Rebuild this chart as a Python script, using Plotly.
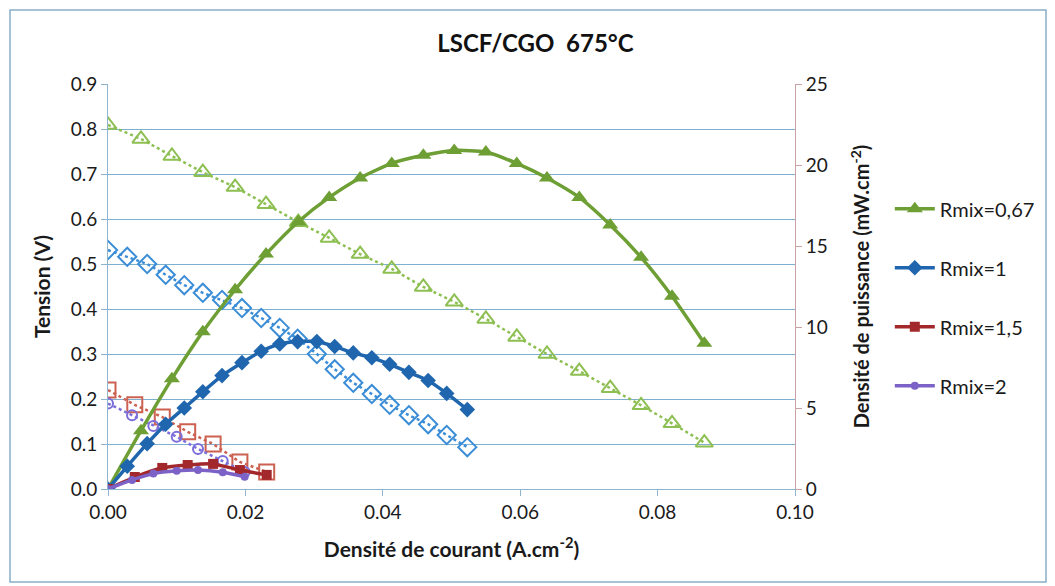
import plotly.graph_objects as go

# Rmix = 0,67
j_067 = [0, 0.0048, 0.0093, 0.0138, 0.0185, 0.0230, 0.0277, 0.0322, 0.0367, 0.0413,
         0.0459, 0.0504, 0.0550, 0.0595, 0.0639, 0.0686, 0.0731, 0.0776, 0.0821, 0.0868]
u_067 = [0.809, 0.778, 0.740, 0.704, 0.671, 0.633, 0.593, 0.558, 0.522, 0.489,
         0.449, 0.416, 0.378, 0.338, 0.300, 0.262, 0.224, 0.186, 0.146, 0.103]
p_067 = [0, 3.6, 6.8, 9.7, 12.3, 14.5, 16.5, 18.0, 19.2, 20.1,
         20.6, 20.9, 20.8, 20.1, 19.2, 18.0, 16.3, 14.3, 11.9, 9.0]

# Rmix = 1
j_1 = [0, 0.0028, 0.0057, 0.0084, 0.0111, 0.0138, 0.0166, 0.0195, 0.0223, 0.0250,
       0.0276, 0.0304, 0.0330, 0.0357, 0.0384, 0.0410, 0.0438, 0.0466, 0.0493, 0.0523]
u_1 = [0.531, 0.516, 0.500, 0.476, 0.453, 0.436, 0.420, 0.402, 0.380, 0.358,
       0.334, 0.300, 0.266, 0.236, 0.211, 0.187, 0.164, 0.144, 0.120, 0.093]
p_1 = [0, 1.4, 2.8, 4.0, 5.0, 6.0, 7.0, 7.8, 8.5, 8.95,
       9.1, 9.1, 8.8, 8.4, 8.1, 7.7, 7.2, 6.7, 5.9, 4.9]

# Rmix = 1,5
j_15 = [0, 0.0039, 0.0079, 0.0116, 0.0153, 0.0192, 0.0231]
u_15 = [0.220, 0.187, 0.160, 0.127, 0.100, 0.060, 0.038]
p_15 = [0, 0.74, 1.30, 1.48, 1.55, 1.17, 0.87]

# Rmix = 2
j_2 = [0, 0.0035, 0.0066, 0.0100, 0.0131, 0.0167, 0.0199]
u_2 = [0.190, 0.164, 0.140, 0.116, 0.089, 0.062, 0.038]
p_2 = [0, 0.56, 0.95, 1.12, 1.17, 1.03, 0.75]

names = ["Rmix=0,67", "Rmix=1", "Rmix=1,5", "Rmix=2"]
x_ticks = [0, 0.02, 0.04, 0.06, 0.08, 0.10]

series = [
    (j_067, u_067, p_067, "#6E9F35", "#8DBF52", "triangle-up", 14, 15),
    (j_1, u_1, p_1, "#1F66AE", "#3A8DD6", "diamond", 12, 14),
    (j_15, u_15, p_15, "#A3282B", "#CC6152", "square", 10, 15),
    (j_2, u_2, p_2, "#7C62C6", "#7C6FDB", "circle", 8, 10),
]

fig = go.Figure()

# tension curves (dotted, open markers, left axis)
for (j, u, p, col, lcol, sym, ms, mso), name in zip(series, names):
    fig.add_trace(go.Scatter(
        x=j, y=u, mode="lines+markers", showlegend=False, name=name,
        line=dict(color=lcol, width=2.5, dash="dot"),
        marker=dict(symbol=sym + "-open", size=mso, color=lcol, line=dict(width=2)),
    ))

# power curves (solid, filled markers, right axis)
for i, ((j, u, p, col, lcol, sym, ms, mso), name) in enumerate(zip(series, names)):
    fig.add_trace(go.Scatter(
        x=j, y=p, mode="lines+markers", name=name, yaxis="y2",
        legendgroup=str(i),
        line=dict(color=col, width=3.5, shape="spline", smoothing=0.6),
        marker=dict(symbol=sym, size=ms, color=col),
    ))

grid = "#7DB0CF"
axcol = "#8EB4CF"
font = "Lato, Open Sans, sans-serif"

# the page body adds 8px, so margins are 8px smaller than the target positions
fig.update_layout(
    width=1055, height=586,
    margin=dict(l=100, r=268, t=76, b=105),
    paper_bgcolor="white", plot_bgcolor="white",
    font=dict(family=font, size=19, color="#1a1a1a"),
    title=dict(text="<b>LSCF/CGO  675°C</b>", x=0.5, xanchor="center",
               y=0.94, yanchor="middle", font=dict(size=24, color="#111")),
    xaxis=dict(range=[0, 0.1], tickvals=x_ticks, tickformat=".2f",
               showgrid=False, zeroline=False, showline=True, linecolor=axcol,
               ticks="outside", ticklen=6, tickcolor=axcol,
               title=dict(text="<b>Densité de courant (A.cm<sup>-2</sup>)</b>",
                          font=dict(size=21), standoff=20)),
    yaxis=dict(range=[0, 0.9], dtick=0.1, tickformat=".1f",
               showgrid=True, gridcolor=grid, gridwidth=1, zeroline=False,
               showline=True, linecolor=axcol, ticks="outside", ticklen=6,
               tickcolor=axcol,
               title=dict(text="<b>Tension (V)</b>", font=dict(size=21), standoff=14)),
    yaxis2=dict(range=[0, 25], dtick=5, overlaying="y", side="right",
                showgrid=False, zeroline=False, showline=True, linecolor="#C9A3A3",
                ticks="outside", ticklen=6, tickcolor="#C9A3A3",
                title=dict(text="<b>Densité de puissance (mW.cm<sup>-2</sup>)</b>",
                           font=dict(size=20), standoff=28)),
    legend=dict(x=1.138, y=0.74, xanchor="left", yanchor="top",
                font=dict(size=20), tracegroupgap=30, itemwidth=40,
                bgcolor="rgba(0,0,0,0)"),
)

# outer chart frame
fig.add_shape(type="rect", xref="paper", yref="paper",
              x0=(10 - 108) / 687, x1=(1046 - 108) / 687,
              y0=(489 - 582) / 405, y1=(489 - 10) / 405,
              line=dict(color="#8AAFC6", width=1.5))

fig.write_html("out.html")
